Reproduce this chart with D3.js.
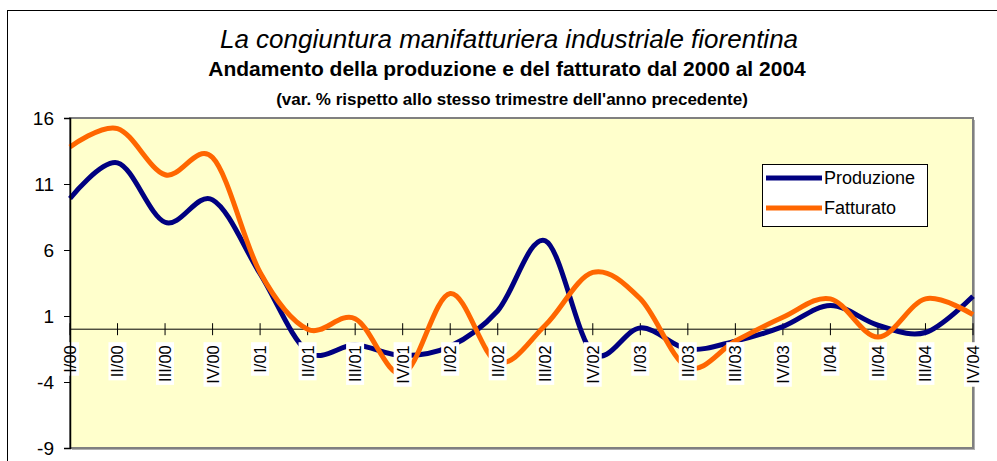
<!DOCTYPE html>
<html>
<head>
<meta charset="utf-8">
<script src="https://cdn.jsdelivr.net/npm/d3@7.9.0/dist/d3.min.js"></script>
<style>
  html, body { margin: 0; padding: 0; background: #fff; }
  svg { display: block; font-family: Arial, "Liberation Sans", sans-serif; }
</style>
</head>
<body>
<svg id="chart" width="997" height="461"></svg>
<script>
// quarters (x categories)
const quarters = [
  "I/00", "II/00", "III/00", "IV/00",
  "I/01", "II/01", "III/01", "IV/01",
  "I/02", "II/02", "III/02", "IV/02",
  "I/03", "II/03", "III/03", "IV/03",
  "I/04", "II/04", "III/04", "IV/04"
];

// var. % on same quarter of previous year
const produzione = [9.9, 12.6, 8.1, 9.8, 4.2, -1.7, -1.2, -2.0, -1.3, 1.4,
                    6.7, -1.8, 0.1, -1.5, -0.9, 0.2, 1.8, 0.3, -0.25, 2.5];
const fatturato = [13.8, 15.2, 11.7, 13.0, 4.3, 0.0, 0.8, -3.4, 2.7, -2.5,
                   0.3, 4.3, 2.3, -2.9, -0.9, 0.9, 2.3, -0.6, 2.3, 1.1];

const yTicks = [16, 11, 6, 1, -4, -9];

const seriesNames = ["Produzione", "Fatturato"];
const seriesColors = ["#000080", "#FF6600"];

const svg = d3.select("#chart");

// ---- outer frame ----
svg.append("rect")
  .attr("x", 7.5).attr("y", 10.5)
  .attr("width", 1000).attr("height", 470)
  .attr("fill", "#fff").attr("stroke", "#000").attr("stroke-width", 1);

// ---- titles ----
svg.append("text")
  .attr("x", 509).attr("y", 48)
  .attr("text-anchor", "middle")
  .style("font-size", "26px").style("font-style", "italic")
  .text("La congiuntura manifatturiera industriale fiorentina");

svg.append("text")
  .attr("x", 507).attr("y", 76)
  .attr("text-anchor", "middle")
  .style("font-size", "21px").style("font-weight", "bold")
  .text("Andamento della produzione e del fatturato dal 2000 al 2004");

svg.append("text")
  .attr("x", 512).attr("y", 105)
  .attr("text-anchor", "middle")
  .style("font-size", "17px").style("font-weight", "bold")
  .text("(var. % rispetto allo stesso trimestre dell'anno precedente)");

// ---- scales ----
const plot = { left: 70, right: 973, top: 118, bottom: 448 };

const x = d3.scalePoint()
  .domain(quarters)
  .range([plot.left, plot.right]);

const y = d3.scaleLinear()
  .domain([-9, 16])
  .range([plot.bottom, plot.top]);

// ---- plot area ----
svg.append("rect")
  .attr("x", plot.left + 2).attr("y", plot.top + 2)
  .attr("width", plot.right - plot.left).attr("height", plot.bottom - plot.top)
  .attr("fill", "#b0b0b0");
svg.append("rect")
  .attr("x", plot.left).attr("y", plot.top)
  .attr("width", plot.right - plot.left).attr("height", plot.bottom - plot.top)
  .attr("fill", "#FFFFCC").attr("stroke", "#808080").attr("stroke-width", 2);

// ---- x axis at zero ----
const xAxis = svg.append("g").attr("class", "x-axis");
xAxis.append("line")
  .attr("x1", plot.left).attr("x2", plot.right)
  .attr("y1", y(0)).attr("y2", y(0))
  .attr("stroke", "#000").attr("stroke-width", 1);
xAxis.selectAll("line.tick")
  .data(quarters)
  .join("line")
  .attr("class", "tick")
  .attr("x1", (d) => x(d)).attr("x2", (d) => x(d))
  .attr("y1", y(0) - 6).attr("y2", y(0) + 6)
  .attr("stroke", "#000").attr("stroke-width", 1);

// ---- series ----
const line = d3.line()
  .x((d, i) => x(quarters[i]))
  .y((d) => y(d))
  .curve(d3.curveCardinal.tension(0));

[produzione, fatturato].forEach((values, k) => {
  svg.append("path")
    .datum(values)
    .attr("fill", "none")
    .attr("stroke", seriesColors[k])
    .attr("stroke-width", 5)
    .attr("stroke-linejoin", "round")
    .attr("d", line);
});

// ---- rotated category labels with white boxes ----
const labels = svg.append("g").attr("class", "x-labels")
  .selectAll("g")
  .data(quarters)
  .join("g")
  .attr("transform", (d) => `translate(${x(d)},${y(0) + 16}) rotate(-90)`);

labels.append("text")
  .attr("text-anchor", "end")
  .attr("dy", "0.36em")
  .style("font-size", "16.5px")
  .text((d) => d);

labels.each(function () {
  const g = d3.select(this);
  const b = g.select("text").node().getBBox();
  g.insert("rect", "text")
    .attr("x", b.x - 3).attr("y", b.y)
    .attr("width", b.width + 6).attr("height", b.height)
    .attr("fill", "#fff");
});

// ---- y axis ----
const yAxis = d3.axisLeft(y)
  .tickValues(yTicks)
  .tickSize(6)
  .tickPadding(10)
  .tickFormat((d) => String(d));

svg.append("g")
  .attr("class", "y-axis")
  .attr("transform", `translate(${plot.left},0)`)
  .call(yAxis)
  .call((g) => g.select(".domain").attr("stroke", "#000").attr("stroke-width", 1.5))
  .call((g) => g.selectAll("text")
    .style("font-size", "19px")
    .style("font-family", "Arial, 'Liberation Sans', sans-serif")
    .attr("fill", "#000"));

// ---- legend ----
const legend = svg.append("g").attr("transform", "translate(762,164)");
legend.append("rect")
  .attr("x", 0.5).attr("y", 0.5)
  .attr("width", 165).attr("height", 62)
  .attr("fill", "#fff").attr("stroke", "#000").attr("stroke-width", 1);

seriesNames.forEach((name, k) => {
  const ly = 14 + k * 30;
  legend.append("line")
    .attr("x1", 4).attr("x2", 60)
    .attr("y1", ly).attr("y2", ly)
    .attr("stroke", seriesColors[k]).attr("stroke-width", 5);
  legend.append("text")
    .attr("x", 62).attr("y", ly)
    .attr("dy", "0.36em")
    .style("font-size", "18px")
    .text(name);
});
</script>
</body>
</html>
